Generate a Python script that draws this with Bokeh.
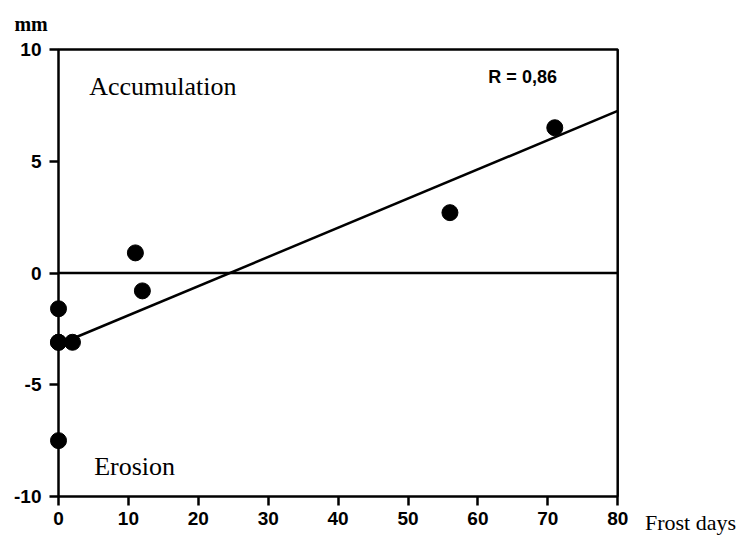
from bokeh.plotting import figure
from bokeh.models import Range1d, Label, FixedTicker
from bokeh.embed import file_html
from bokeh.resources import INLINE

# data
frost_days = [0, 0, 0, 2, 0, 11, 12, 56, 71]
change_mm = [-1.6, -3.1, -3.1, -3.1, -7.5, 0.9, -0.8, 2.7, 6.5]
fit_x = [0, 80]
fit_y = [-3.2, 7.25]
x_ticks = [0, 10, 20, 30, 40, 50, 60, 70, 80]
y_ticks = [-10, -5, 0, 5, 10]
r_text = "R = 0,86"

W, H = 741, 535
# pixel geometry of the reference frame
X0_PX, X_SCALE = 58.0, 6.99
Y0_PX, Y_SCALE = 272.5, 22.35

p = figure(width=W, height=H, output_backend="svg", toolbar_location=None, title=None,
           x_range=Range1d(-X0_PX / X_SCALE, (W - X0_PX) / X_SCALE),
           y_range=Range1d(-(H - Y0_PX) / Y_SCALE, Y0_PX / Y_SCALE),
           min_border=0, min_border_left=0, min_border_right=0,
           min_border_top=0, min_border_bottom=0)
p.background_fill_color = "white"
p.border_fill_color = "white"
p.xgrid.visible = False
p.ygrid.visible = False
p.outline_line_color = None

xa, ya = p.xaxis[0], p.yaxis[0]
xa.fixed_location = y_ticks[0]
ya.fixed_location = x_ticks[0]
for ax in (xa, ya):
    ax.axis_line_color = None
    ax.major_tick_line_width = 2.5
    ax.major_tick_line_color = "black"
    ax.major_tick_out = 9
    ax.major_tick_in = 0
    ax.minor_tick_line_color = None
    ax.major_label_text_font = "Liberation Sans"
    ax.major_label_text_font_style = "bold"
    ax.major_label_text_font_size = "19px"
    ax.major_label_text_color = "black"
xa.ticker = FixedTicker(ticks=x_ticks)
ya.ticker = FixedTicker(ticks=y_ticks)
ya.major_label_overrides = {t: str(t) for t in y_ticks}
xa.major_label_standoff = 6
ya.major_label_standoff = 8

# frame box
p.quad(left=x_ticks[0], right=x_ticks[-1], bottom=y_ticks[0], top=y_ticks[-1],
       fill_color=None, line_color="black", line_width=2.5)
# zero line
p.segment(x0=x_ticks[0], y0=0, x1=x_ticks[-1], y1=0, line_color="black", line_width=2.5)
# regression line
p.line(fit_x, fit_y, line_color="black", line_width=2.5)
# observations
p.scatter(frost_days, change_mm, size=16, fill_color="black", line_color="black")

p.add_layout(Label(x=4.4, y=8.34, text="Accumulation", text_font="Liberation Serif",
                   text_font_size="26px", text_color="black", text_baseline="alphabetic"))
p.add_layout(Label(x=5.1, y=-8.66, text="Erosion", text_font="Liberation Serif",
                   text_font_size="26px", text_color="black", text_baseline="alphabetic"))
p.add_layout(Label(x=66.4, y=8.75, text=r_text, text_font="Liberation Sans",
                   text_font_style="bold", text_font_size="18px", text_color="black",
                   text_baseline="middle", text_align="center"))
p.add_layout(Label(x=-6.3, y=11.16, text="mm", text_font="Liberation Serif",
                   text_font_style="bold", text_font_size="20px", text_color="black",
                   text_baseline="alphabetic"))
p.add_layout(Label(x=83.9, y=-11.15, text="Frost days", text_font="Liberation Serif",
                   text_font_size="22px", text_color="black", text_baseline="alphabetic"))

open("out.html", "w").write(file_html(p, INLINE))
